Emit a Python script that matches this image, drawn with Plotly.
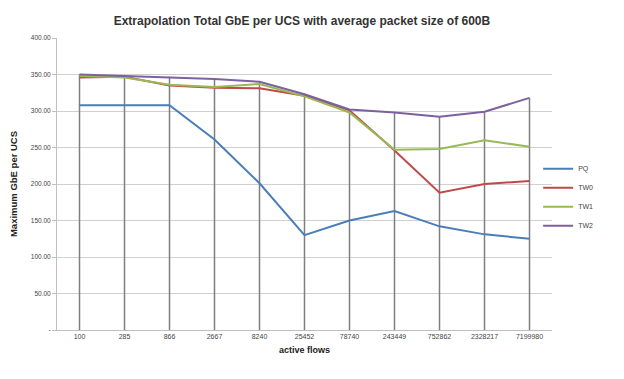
import plotly.graph_objects as go

categories = ["100", "285", "866", "2667", "8240", "25452", "78740", "243449", "752862", "2328217", "7199980"]
pq  = [308, 308, 308, 261, 201, 130, 150, 163, 142, 131, 125]
tw0 = [346, 347, 335, 332, 331, 321, 301, 246, 188, 200, 204]
tw1 = [348, 346, 336, 333, 337, 320, 298, 247, 248, 260, 251]
tw2 = [350, 348, 347, 344, 340, 323, 302, 298, 292, 299, 318]
series_names = ["PQ", "TW0", "TW1", "TW2"]
colors = ["#4A7EBB", "#BE4B48", "#98B954", "#7D60A0"]
y_ticks = [0, 50, 100, 150, 200, 250, 300, 350, 400]
y_ticktext = ["-", "50.00", "100.00", "150.00", "200.00", "250.00", "300.00", "350.00", "400.00"]

series = [pq, tw0, tw1, tw2]
fig = go.Figure()

# drop lines from the highest value down to the axis
dx, dy = [], []
for i, c in enumerate(categories):
    top = max(s[i] for s in series)
    dx += [c, c, None]
    dy += [0, top, None]
fig.add_trace(go.Scatter(x=dx, y=dy, mode="lines", line=dict(color="#7F7F7F", width=1.5),
                         showlegend=False, hoverinfo="skip"))

for name, vals, col in zip(series_names, series, colors):
    fig.add_trace(go.Scatter(x=categories, y=vals, mode="lines", name=name,
                             line=dict(color=col, width=2)))

# the page body has an 8px margin, so margins are offset accordingly
fig.update_layout(
    width=624, height=379,
    margin=dict(l=49, r=80, t=30, b=57),
    paper_bgcolor="white", plot_bgcolor="white",
    title=dict(text="<b>Extrapolation Total GbE per UCS with average packet size of 600B</b>",
               x=0.471, xanchor="center", y=0.966, yanchor="middle",
               font=dict(family="Liberation Sans, Arial", size=12, color="#333333")),
    font=dict(family="Liberation Sans, Arial", color="#444444"),
    legend=dict(x=0.972, y=0.455, xanchor="left", yanchor="middle",
                font=dict(size=7, color="#444444"), tracegroupgap=0,
                itemwidth=30, bgcolor="rgba(0,0,0,0)"),
    showlegend=True,
)
fig.update_xaxes(type="category", categoryorder="array", categoryarray=categories,
                 showgrid=False, showline=True, linecolor="#BFBFBF", linewidth=1,
                 ticks="", tickfont=dict(size=7, color="#444444"), automargin=False,
                 title=dict(text="<b>active flows</b>", font=dict(size=9, color="#222222"), standoff=7),
                 range=[-0.5, len(categories) - 0.5], zeroline=False)
fig.update_yaxes(range=[0, 400], tickvals=y_ticks, ticktext=y_ticktext,
                 showgrid=True, gridcolor="#D0D0D0", gridwidth=1, automargin=False,
                 showline=True, linecolor="#BFBFBF", linewidth=1, zeroline=False,
                 ticks="outside", ticklen=4, tickcolor="#BFBFBF",
                 tickfont=dict(size=6.5, color="#444444"),
                 title=dict(text="<b>Maximum GbE per UCS</b>", font=dict(size=9.5, color="#222222"), standoff=13))

fig.write_html("out.html")
